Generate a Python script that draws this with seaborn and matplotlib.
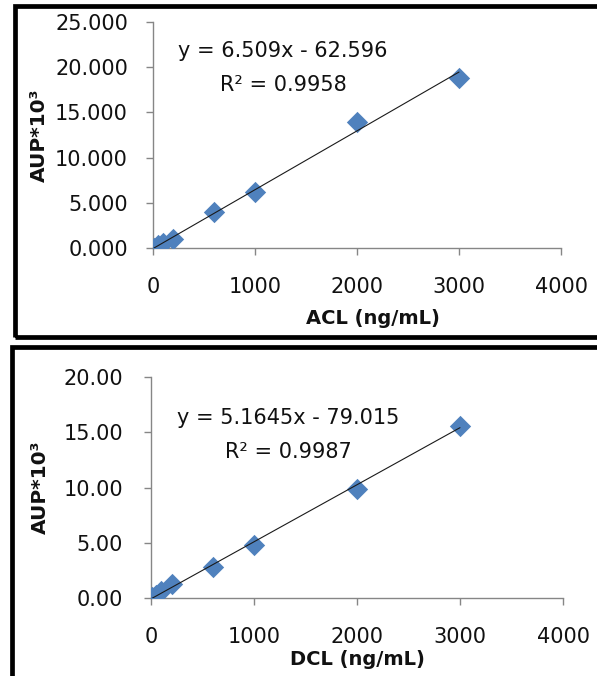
import matplotlib
matplotlib.use("Agg")
import matplotlib.pyplot as plt
import seaborn as sns
import pandas as pd
import numpy as np
from matplotlib.patches import Rectangle

# ---- data ----
acl_conc = [10, 50, 100, 200, 600, 1000, 2000, 3000]
acl_aup = [0.05, 0.30, 0.60, 1.00, 4.00, 6.20, 13.90, 18.80]
dcl_conc = [10, 50, 100, 200, 600, 1000, 2000, 3000]
dcl_aup = [0.05, 0.30, 0.60, 1.30, 2.80, 4.80, 9.90, 15.60]
acl_slope, acl_intercept, acl_r2 = 6.509, -62.596, 0.9958
dcl_slope, dcl_intercept, dcl_r2 = 5.1645, -79.015, 0.9987
acl_yticks = ["0.000", "5.000", "10.000", "15.000", "20.000", "25.000"]
dcl_yticks = ["0.00", "5.00", "10.00", "15.00", "20.00"]
xticks = [0, 1000, 2000, 3000, 4000]

sns.set_theme(style="white")
plt.rcParams['font.family'] = ['DejaVu Sans']

W, H = 597, 676
fig = plt.figure(figsize=(W / 100, H / 100), dpi=100)

def px_axes(left, right, top, bottom):
    return fig.add_axes([left / W, 1 - bottom / H, (right - left) / W, (bottom - top) / H])

BLUE = "#4F81BD"
GRAY = "#868686"

def panel(ax, conc, aup, slope, intercept, r2, yticks, ymax, xlabel, eq_pos, r2_pos, xpad, ypad):
    df = pd.DataFrame({"conc": conc, "aup": aup})
    sns.scatterplot(data=df, x="conc", y="aup", ax=ax, marker="D", s=118,
                    color=BLUE, linewidth=0, zorder=3)
    xs = np.array([min(conc), max(conc)], dtype=float)
    line_df = pd.DataFrame({"conc": xs, "fit": (slope * xs + intercept) / 1000.0})
    sns.lineplot(data=line_df, x="conc", y="fit", ax=ax, color="#1a1a1a", linewidth=0.8, zorder=4)
    ax.set_xlim(0, 4000)
    ax.set_ylim(0, ymax)
    ax.set_xticks(xticks)
    ax.set_xticklabels([str(v) for v in xticks])
    yt = np.linspace(0, ymax, len(yticks))
    ax.set_yticks(yt)
    ax.set_yticklabels(yticks)
    for s in ["top", "right"]:
        ax.spines[s].set_visible(False)
    for s in ["left", "bottom"]:
        ax.spines[s].set_color(GRAY)
        ax.spines[s].set_linewidth(1.0)
    ax.tick_params(axis="both", which="major", length=5, width=1.0, color=GRAY,
                   labelsize=15, labelcolor="#111111", direction="out")
    ax.tick_params(axis="x", pad=xpad, bottom=True)
    ax.tick_params(axis="y", pad=ypad, left=True)
    ax.set_xlabel(xlabel, fontsize=14, fontweight="bold", color="#111111")
    ax.set_ylabel("AUP*10³", fontsize=14.5, fontweight="bold", color="#111111")
    ax.text(eq_pos[0], eq_pos[1], f"y = {slope}x - {abs(intercept)}", fontsize=15,
            ha="center", va="center", color="#111111")
    ax.text(r2_pos[0], r2_pos[1], f"R² = {r2}", fontsize=15,
            ha="center", va="center", color="#111111")
    ax.set_facecolor("white")
    ax.grid(False)

ax1 = px_axes(153, 561, 22, 248)
panel(ax1, acl_conc, acl_aup, acl_slope, acl_intercept, acl_r2, acl_yticks, 25,
      "ACL (ng/mL)", (1275, 21.8), (1275, 18.0), 16, 13)
ax1.xaxis.set_label_coords(0.54, -0.27)
ax1.yaxis.set_label_coords(-0.255, 0.5)

ax2 = px_axes(151, 563, 377, 598)
panel(ax2, dcl_conc, dcl_aup, dcl_slope, dcl_intercept, dcl_r2, dcl_yticks, 20,
      "DCL (ng/mL)", (1330, 16.3), (1330, 13.2), 16, 15)
ax2.xaxis.set_label_coords(0.50, -0.235)
ax2.yaxis.set_label_coords(-0.245, 0.5)

# panel frames
def frame(x0, y0, x1, y1):
    r = Rectangle((x0 / W, 1 - y1 / H), (x1 - x0) / W, (y1 - y0) / H,
                  transform=fig.transFigure, fill=False, edgecolor="black",
                  linewidth=3.4, zorder=10)
    fig.patches.append(r)

frame(14.5, 6, 610, 337)
frame(12, 347, 610, 690)

fig.savefig("out.png", dpi=100)
